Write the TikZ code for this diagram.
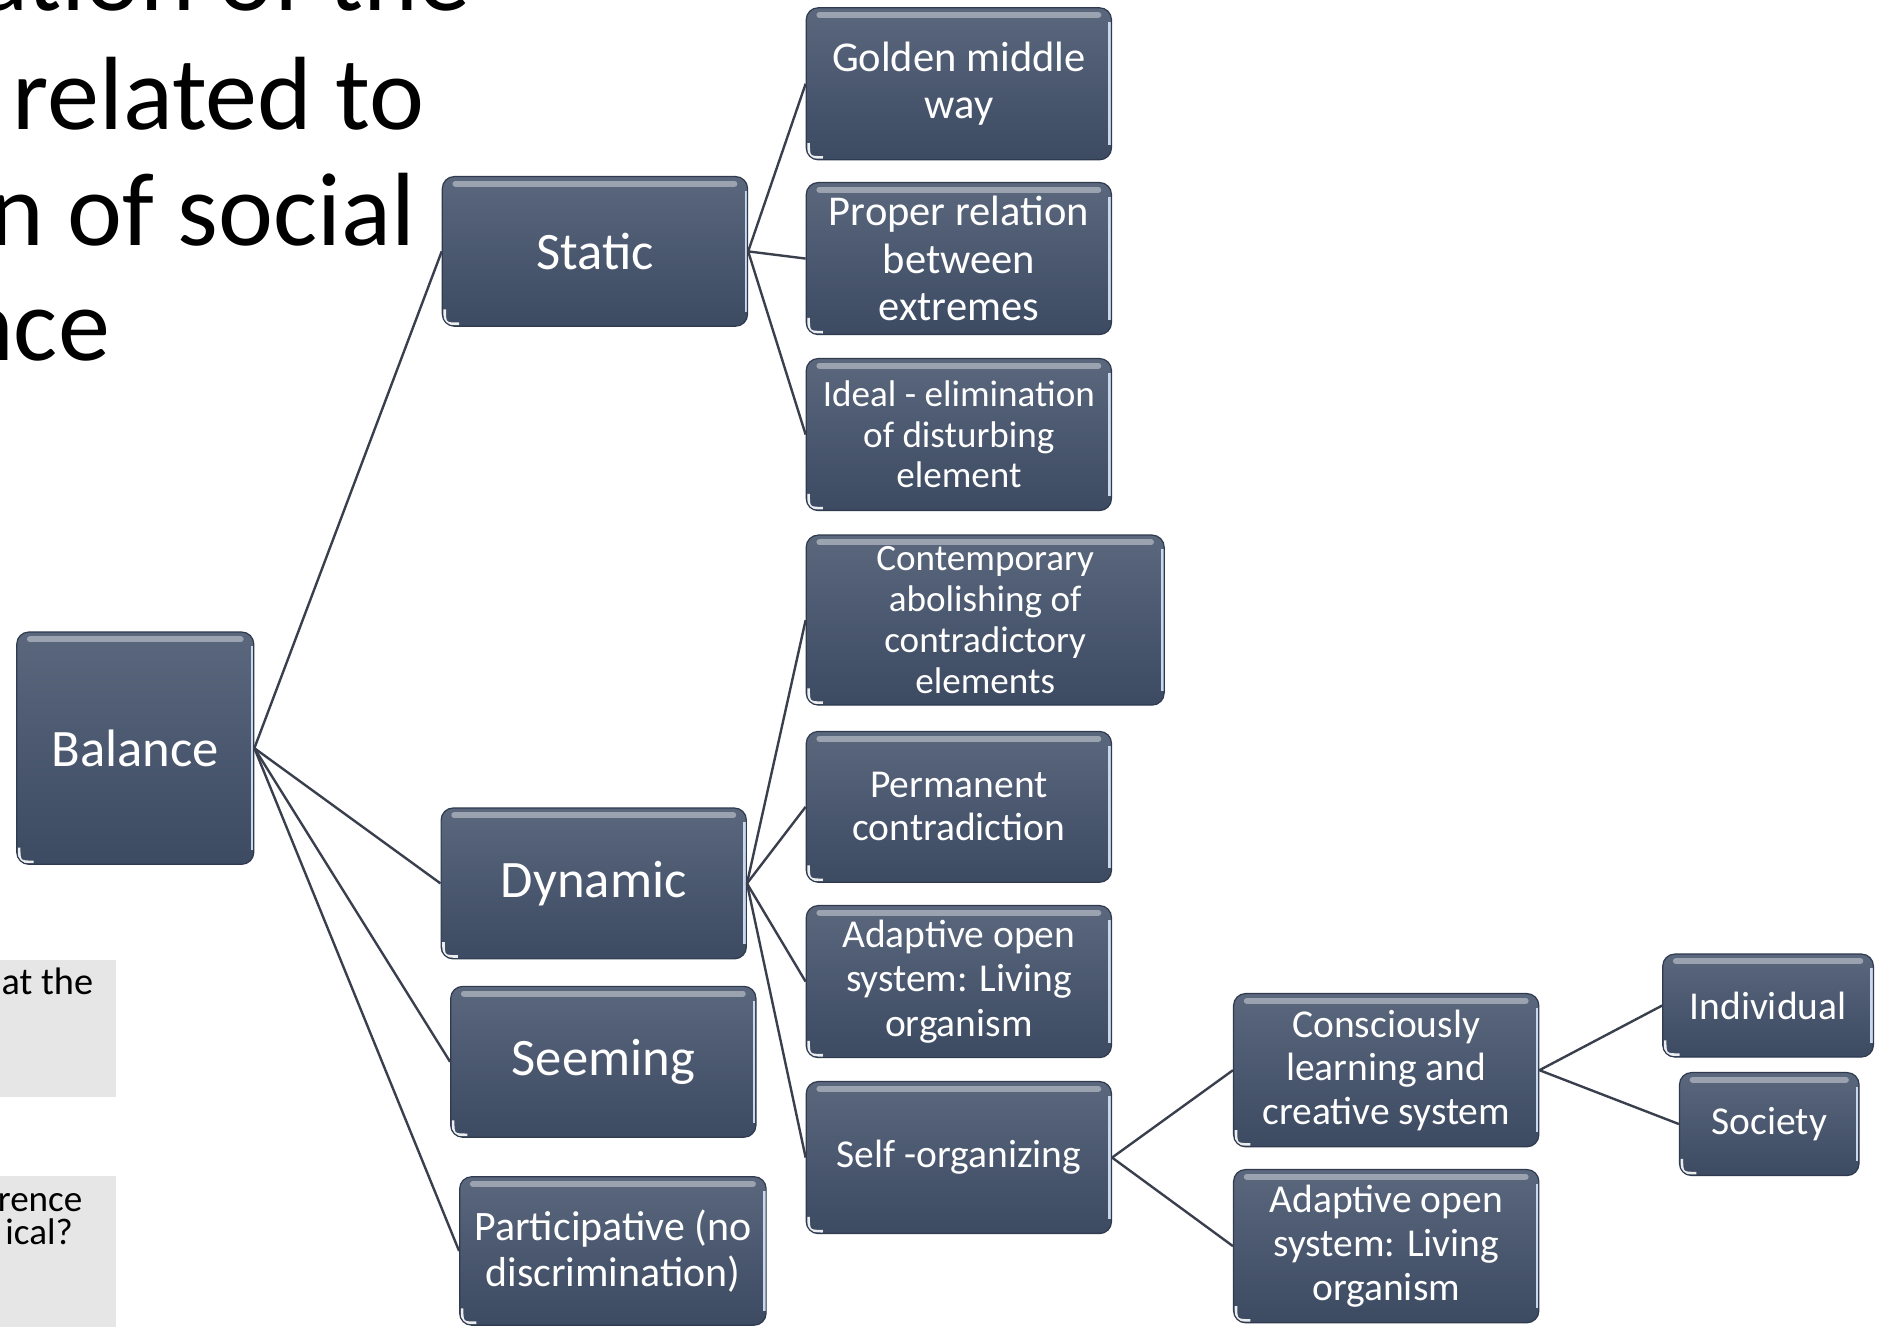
\documentclass[tikz,border=0pt]{standalone}
\usepackage{fontspec}
\setmainfont{Carlito}
\usetikzlibrary{shadings}
\definecolor{boxtop}{HTML}{5A677D}
\definecolor{boxbot}{HTML}{3C4A62}
\definecolor{boxedge}{HTML}{2F3A4E}
\definecolor{linecol}{HTML}{3A3F4D}
\definecolor{greybg}{HTML}{E6E6E6}
\definecolor{hilite}{HTML}{C9D8EC}
\newcommand\myfs[2]{\fontsize{#1pt}{#2pt}\selectfont}
\begin{document}
\begin{tikzpicture}[x=1pt,y=-1pt,
  gbox/.style={rectangle, rounded corners=10pt, draw=boxedge, line width=1pt,
    top color=boxtop, bottom color=boxbot, text=white, align=center, inner sep=0pt,
    path picture={
      \draw[white,opacity=0.4,line width=5pt,line cap=round]
        ([xshift=11pt,yshift=-6pt]path picture bounding box.north west) --
        ([xshift=-11pt,yshift=-6pt]path picture bounding box.north east);
      \draw[hilite,line width=2pt]
        ([xshift=-1.5pt,yshift=-12pt]path picture bounding box.north east) --
        ([xshift=-1.5pt,yshift=12pt]path picture bounding box.south east);
      \draw[white,line width=2.2pt,opacity=0.9]
        ([xshift=2pt,yshift=14pt]path picture bounding box.south west) .. controls
        ([xshift=2pt,yshift=2pt]path picture bounding box.south west) ..
        ([xshift=14pt,yshift=2pt]path picture bounding box.south west);
    }},
  conn/.style={draw=linecol, line width=2pt},
  title/.style={anchor=base east, inner sep=0pt, text=black, font=\myfs{87}{96}},
  greytxt/.style={anchor=base east, inner sep=0pt, text=black}]
\useasboundingbox (0,0) rectangle (1568,1108);
\clip (0,0) rectangle (1568,1108);
\fill[white] (0,0) rectangle (1568,1108);

% title fragments
\node[title] (t1) at (393,9) {ation of the};
\node[title] (t2) at (355,108) {related to};
\node[title] (t3) at (347,205) {n of social};
\node[title] (t4) at (92,301) {nce};

% grey boxes at left
\fill[greybg] (-1,802) rectangle (97,916);
\fill[greybg] (-1,982) rectangle (97,1112);
\node[greytxt, font=\myfs{32}{34}] (g1) at (78,831) {at the};
\node[greytxt, font=\myfs{31}{33}] (g2) at (69,1012) {rence};
\node[greytxt, font=\myfs{31}{33}] (g3) at (61,1040) {ical?};

% boxes
\node[gbox, minimum width=198pt, minimum height=194pt, font=\myfs{44}{48}] (bal) at (113,625) {Balance};
\node[gbox, minimum width=255pt, minimum height=125pt, font=\myfs{44}{48}] (sta) at (497,210) {Static};
\node[gbox, minimum width=255pt, minimum height=126pt, font=\myfs{44}{48}] (dyn) at (496,738) {Dynamic};
\node[gbox, minimum width=255pt, minimum height=126pt, font=\myfs{44}{48}] (see) at (504,887) {Seeming};
\node[gbox, minimum width=256pt, minimum height=124pt, font=\myfs{35}{39}] (par) at (512,1045) {Participative (no\\discrimination)};

\node[gbox, minimum width=255pt, minimum height=127pt, font=\myfs{35.5}{39}] (gol) at (801,70) {Golden middle\\way};
\node[gbox, minimum width=255pt, minimum height=127pt, font=\myfs{35.5}{39.5}] (pro) at (801,216) {Proper relation\\between\\extremes};
\node[gbox, minimum width=255pt, minimum height=127pt, font=\myfs{31}{34}] (ide) at (801,363) {Ideal - elimination\\of disturbing\\element};

\node[gbox, minimum width=299pt, minimum height=142pt, font=\myfs{31}{34}] (con) at (823,518) {Contemporary\\abolishing of\\contradictory\\elements};
\node[gbox, minimum width=255pt, minimum height=126pt, font=\myfs{33}{36}] (per) at (801,674) {Permanent\\contradiction};
\node[gbox, minimum width=255pt, minimum height=127pt, font=\myfs{33}{37}] (ad1) at (801,820) {Adaptive open\\system: Living\\organism};
\node[gbox, minimum width=255pt, minimum height=127pt, font=\myfs{33}{37}] (sel) at (801,967) {Self -organizing};

\node[gbox, minimum width=255pt, minimum height=128pt, font=\myfs{33}{36.5}] (cons) at (1158,894) {Consciously\\learning and\\creative system};
\node[gbox, minimum width=255pt, minimum height=128pt, font=\myfs{33}{37}] (ad2) at (1158,1041) {Adaptive open\\system: Living\\organism};

\node[gbox, minimum width=176pt, minimum height=86pt, font=\myfs{33}{36}] (ind) at (1477,840) {Individual};
\node[gbox, minimum width=150pt, minimum height=86pt, font=\myfs{33}{36}] (soc) at (1478,939) {Society};

% connectors
\draw[conn] (bal.east) -- (sta.west);
\draw[conn] (bal.east) -- (dyn.west);
\draw[conn] (bal.east) -- (see.west);
\draw[conn] (bal.east) -- (par.west);
\draw[conn] (sta.east) -- (gol.west);
\draw[conn] (sta.east) -- (pro.west);
\draw[conn] (sta.east) -- (ide.west);
\draw[conn] (dyn.east) -- (con.west);
\draw[conn] (dyn.east) -- (per.west);
\draw[conn] (dyn.east) -- (ad1.west);
\draw[conn] (dyn.east) -- (sel.west);
\draw[conn] (sel.east) -- (cons.west);
\draw[conn] (sel.east) -- (ad2.west);
\draw[conn] (cons.east) -- (ind.west);
\draw[conn] (cons.east) -- (soc.west);
\end{tikzpicture}
\end{document}
